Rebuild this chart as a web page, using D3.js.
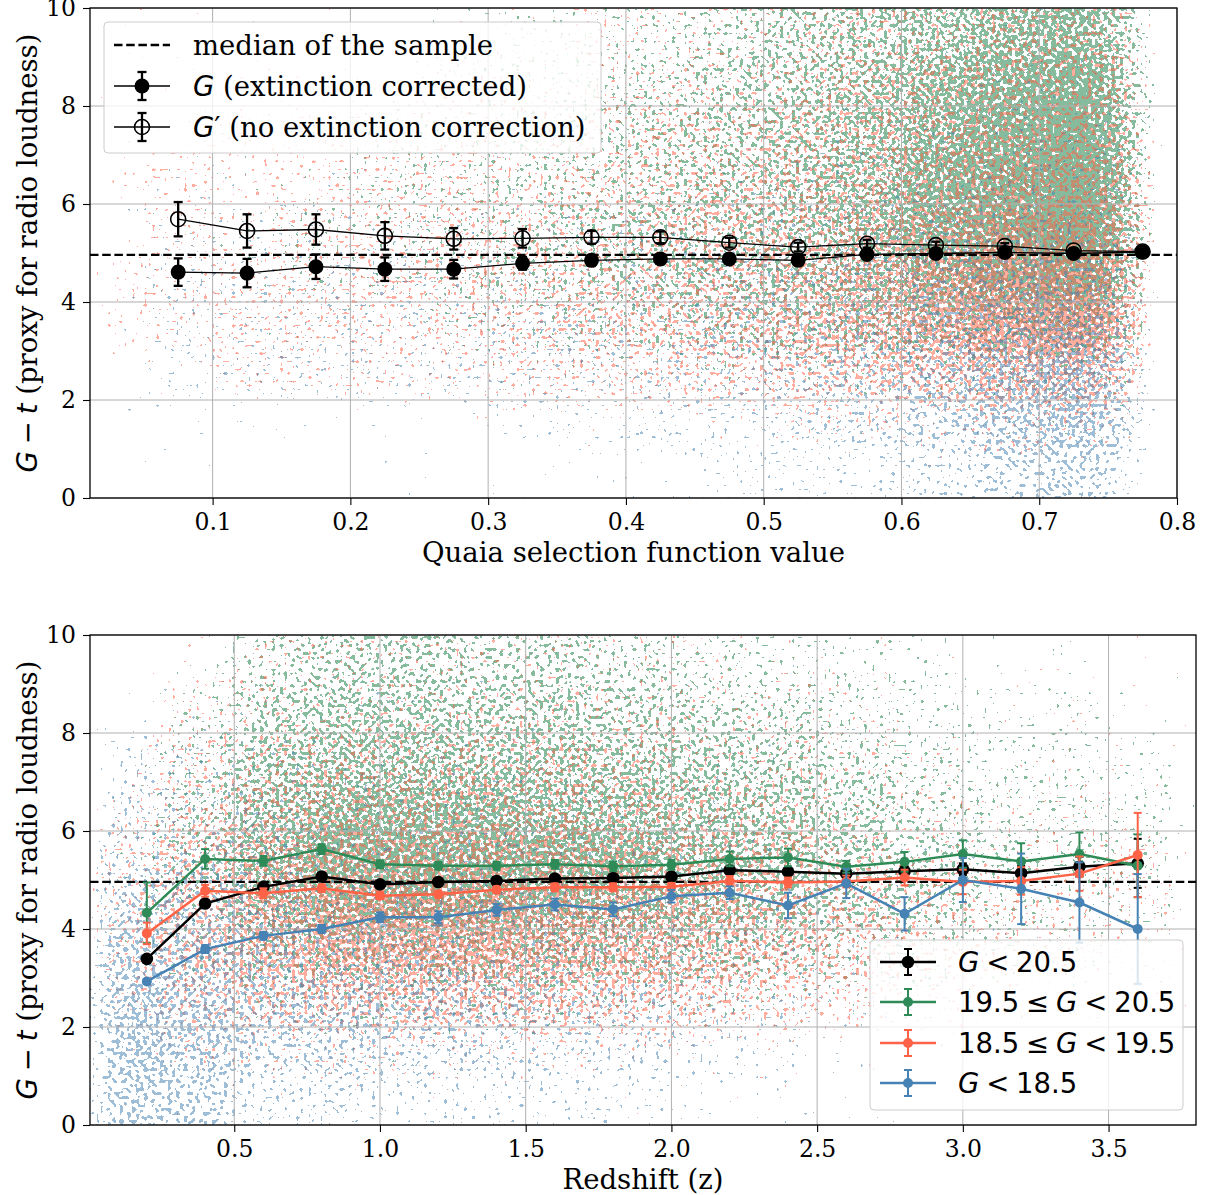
<!DOCTYPE html>
<html>
<head>
<meta charset="utf-8">
<script src="https://cdn.jsdelivr.net/npm/d3@7"></script>
<style>
  body { margin: 0; background: #fff; }
  text { fill: #000; }
</style>
</head>
<body>
<svg id="chart" width="1209" height="1195"></svg>
<script>
// ---- top panel: selection-function bins ----
const selBins = [0.075, 0.125, 0.175, 0.225, 0.275, 0.325, 0.375, 0.425, 0.475, 0.525, 0.575, 0.625, 0.675, 0.725, 0.775];
const selG = [4.61, 4.59, 4.72, 4.67, 4.67, 4.79, 4.85, 4.88, 4.88, 4.85, 4.97, 4.99, 5.01, 4.99, 5.02];
const selGErr = [0.28, 0.29, 0.25, 0.24, 0.19, 0.13, 0.11, 0.09, 0.07, 0.06, 0.05, 0.04, 0.04, 0.03, 0.03];
const selGPrime = [5.69, 5.45, 5.48, 5.35, 5.29, 5.30, 5.32, 5.32, 5.21, 5.12, 5.19, 5.16, 5.14, 5.05, 5.03];
const selGPrimeErr = [0.35, 0.34, 0.31, 0.28, 0.22, 0.19, 0.13, 0.12, 0.10, 0.09, 0.08, 0.07, 0.06, 0.05, 0.04];
const sampleMedian = 4.96;

// ---- bottom panel: redshift bins ----
const zBins = [0.2, 0.4, 0.6, 0.8, 1.0, 1.2, 1.4, 1.6, 1.8, 2.0, 2.2, 2.4, 2.6, 2.8, 3.0, 3.2, 3.4, 3.6];
const zAll = [3.39, 4.52, 4.86, 5.07, 4.91, 4.96, 4.98, 5.03, 5.04, 5.07, 5.20, 5.17, 5.13, 5.18, 5.22, 5.14, 5.27, 5.34];
const zAllErr = [0.06, 0.05, 0.04, 0.04, 0.04, 0.04, 0.04, 0.04, 0.05, 0.05, 0.06, 0.07, 0.08, 0.10, 0.12, 0.15, 0.20, 0.50];
const zFaint = [4.33, 5.43, 5.39, 5.63, 5.32, 5.29, 5.29, 5.32, 5.28, 5.31, 5.43, 5.46, 5.27, 5.37, 5.53, 5.38, 5.53, 5.29];
const zFaintErr = [0.62, 0.20, 0.10, 0.10, 0.08, 0.08, 0.08, 0.09, 0.10, 0.10, 0.15, 0.18, 0.12, 0.20, 0.28, 0.37, 0.44, 0.64];
const zMid = [3.91, 4.78, 4.73, 4.83, 4.68, 4.71, 4.80, 4.85, 4.85, 4.86, 4.98, 4.95, 4.97, 5.05, 4.96, 4.98, 5.13, 5.51];
const zMidErr = [0.22, 0.12, 0.10, 0.08, 0.07, 0.07, 0.07, 0.08, 0.08, 0.08, 0.10, 0.10, 0.12, 0.16, 0.25, 0.28, 0.35, 0.86];
const zBright = [2.93, 3.59, 3.86, 4.00, 4.24, 4.24, 4.39, 4.50, 4.40, 4.67, 4.74, 4.48, 4.93, 4.31, 5.00, 4.82, 4.54, 4.00];
const zBrightErr = [0.05, 0.08, 0.08, 0.08, 0.10, 0.12, 0.12, 0.12, 0.14, 0.13, 0.13, 0.26, 0.30, 0.34, 0.45, 0.72, 0.82, 1.12];

// ---- scatter clouds, read off as relative density (0-10) per cell ----
// rows run from G-t = 9..10 (first) down to 0..1 (last)
const selEdges = [0.02, 0.05, 0.10, 0.15, 0.20, 0.25, 0.30, 0.35, 0.40, 0.45, 0.50, 0.55, 0.60, 0.65, 0.70, 0.75, 0.772];
const selCloudGreen = [
  [0, 0, 0, 0, 0, 0.5, 1, 1, 1.5, 2, 3, 4, 5, 6, 6.5, 4],
  [0, 0, 0, 0.3, 0.5, 1, 1, 1.5, 2, 3, 3.5, 4.5, 6, 7, 8, 5],
  [0, 0, 0.3, 0.5, 1, 1, 1.5, 2, 2.5, 3, 4, 5, 6, 8, 8.5, 6],
  [0, 0, 0.3, 0.5, 1, 1.5, 2, 2, 2.5, 3, 4, 5, 7, 8, 9, 6],
  [0, 0.3, 0.5, 1, 1, 1.5, 2, 2.5, 3, 3.5, 4, 5.5, 7, 8, 9, 6],
  [0, 0.3, 0.5, 1, 1, 1.5, 2, 2.5, 3, 3.5, 4, 5, 6, 7, 8, 5],
  [0, 0, 0.3, 0.5, 0.5, 1, 1, 1.5, 2, 2.5, 3, 3.5, 4, 5, 5, 3],
  [0, 0, 0, 0, 0, 0.3, 0.5, 0.5, 0.5, 1, 1, 1, 1.5, 1.5, 1.5, 1],
  [0, 0, 0, 0, 0, 0, 0, 0, 0, 0, 0.2, 0.3, 0.3, 0.5, 0.5, 0.3],
  [0, 0, 0, 0, 0, 0, 0, 0, 0, 0, 0, 0, 0, 0, 0, 0]
];
const selCloudRed = [
  [0.3, 0.3, 0.3, 0.3, 0.3, 0.5, 0.5, 1, 1, 1, 1.5, 2, 2, 2.5, 2.5, 2],
  [0.3, 0.5, 0.5, 0.5, 0.5, 1, 1, 1, 1.5, 1.5, 2, 2.5, 3, 3, 3, 2.5],
  [0.5, 0.5, 1, 1, 1, 1, 1.5, 1.5, 2, 2, 2.5, 3, 3.5, 4, 4, 3],
  [0.5, 1, 1, 1, 1.5, 1.5, 1.5, 2, 2, 2.5, 3, 3.5, 4, 5, 5, 4],
  [0.5, 1, 1, 1.5, 1.5, 2, 2, 2, 2.5, 3, 3.5, 4, 5, 6, 6, 5],
  [1, 1, 1.5, 1.5, 2, 2, 2, 2.5, 3, 3, 4, 5, 6, 7, 7, 5],
  [1, 1, 1.5, 1.5, 1.5, 2, 2, 2.5, 3, 3, 4, 5, 6, 7, 8, 5],
  [0.5, 0.5, 1, 1, 1, 1, 1.5, 1.5, 2, 2, 2.5, 3, 4, 5, 5, 3],
  [0, 0, 0, 0, 0, 0.3, 0.5, 0.5, 0.5, 0.5, 1, 1, 1, 1.5, 1.5, 1],
  [0, 0, 0, 0, 0, 0, 0, 0, 0, 0, 0, 0.2, 0.2, 0.3, 0.3, 0.2]
];
const selCloudBlue = [
  [0, 0, 0, 0, 0, 0, 0, 0, 0, 0, 0.3, 0.3, 0.5, 0.5, 0.5, 0.3],
  [0, 0, 0, 0, 0, 0, 0, 0, 0.3, 0.3, 0.3, 0.5, 0.5, 0.8, 0.8, 0.5],
  [0, 0.3, 0.3, 0.3, 0.3, 0.3, 0.3, 0.5, 0.5, 0.5, 0.5, 0.8, 1, 1, 1, 0.8],
  [0.3, 0.5, 0.5, 0.5, 0.5, 0.5, 0.5, 0.5, 0.5, 0.8, 1, 1, 1, 1.5, 1.5, 1],
  [0.5, 0.8, 0.8, 0.8, 0.8, 0.8, 0.8, 1, 1, 1, 1.5, 1.5, 2, 2, 2, 1.5],
  [0.5, 1, 1, 1, 1, 1, 1, 1, 1.5, 1.5, 2, 2, 2.5, 3, 3, 2],
  [0.5, 1, 1, 1, 1, 1, 1.5, 1.5, 1.5, 2, 2, 2.5, 3, 4, 4.5, 2.5],
  [0.3, 0.8, 1, 1, 1, 1, 1, 1, 1.5, 1.5, 2, 2.5, 3, 4.5, 5.5, 3],
  [0.3, 0.5, 0.5, 0.5, 0.5, 0.5, 0.8, 0.8, 1, 1, 1.5, 2, 2.5, 4, 5, 2.5],
  [0.2, 0.3, 0.3, 0.3, 0.3, 0.3, 0.5, 0.5, 0.5, 0.8, 1, 1, 1.5, 2.5, 3, 1.5]
];

const zEdges = [0.05, 0.25, 0.5, 0.75, 1.0, 1.25, 1.5, 1.75, 2.0, 2.25, 2.5, 2.75, 3.0, 3.25, 3.5, 3.75];
const zCloudGreen = [
  [0, 0.5, 2, 3, 3, 2.5, 2.5, 2, 1.5, 1, 1, 0.8, 0.5, 0.5, 0.3],
  [0, 1, 3, 4, 4, 3.5, 3.5, 3, 2.5, 2, 1.5, 1, 0.8, 0.8, 0.5],
  [0.2, 1.5, 4, 5, 5, 4.5, 4.5, 4, 3.5, 3, 2, 1.5, 1, 1, 0.8],
  [0.3, 2, 5, 6, 6, 6, 5.5, 5, 4.5, 4, 3, 2, 1.5, 1.2, 1],
  [0.5, 2.5, 5.5, 7, 7, 6.5, 6.5, 6, 5, 4.5, 3.5, 2.5, 2, 1.5, 1],
  [0.5, 2, 5, 6, 6.5, 6, 6, 5.5, 5, 4, 3, 2.5, 1.5, 1.2, 1],
  [0.3, 1.5, 3, 4, 4, 4, 4, 3.5, 3, 2.5, 2, 1.5, 1, 0.8, 0.5],
  [0, 0.5, 1, 1.5, 1.5, 1.5, 1.5, 1, 1, 0.8, 0.5, 0.5, 0.3, 0.3, 0.2],
  [0, 0.2, 0.3, 0.3, 0.3, 0.3, 0.3, 0.3, 0.2, 0.2, 0.2, 0, 0, 0, 0],
  [0, 0, 0, 0, 0, 0, 0, 0, 0, 0, 0, 0, 0, 0, 0]
];
const zCloudRed = [
  [0, 0.5, 1, 1, 1, 1, 1, 1, 0.8, 0.5, 0.5, 0.5, 0.3, 0.3, 0.3],
  [0.2, 1, 1.5, 1.5, 1.5, 1.5, 1.5, 1.5, 1, 1, 0.8, 0.5, 0.5, 0.5, 0.5],
  [0.5, 1.5, 2, 2.5, 2.5, 2.5, 2.5, 2, 1.5, 1.5, 1, 0.8, 0.5, 0.5, 0.5],
  [1, 2, 3, 3.5, 3.5, 3.5, 3, 3, 2.5, 2, 1.5, 1, 0.8, 0.8, 0.5],
  [1.5, 3, 4.5, 5, 5, 5, 4.5, 4, 3.5, 3, 2, 1.5, 1, 1, 0.8],
  [2, 3.5, 5.5, 6, 6, 6, 5.5, 5, 4.5, 3.5, 2.5, 2, 1.5, 1, 1],
  [2, 3.5, 5, 6, 6, 6, 5.5, 5, 4, 3.5, 2.5, 2, 1.5, 1, 0.8],
  [1.5, 2.5, 3, 3.5, 4, 4, 3.5, 3, 2.5, 2, 1.5, 1, 0.8, 0.5, 0.5],
  [0.5, 1, 1, 1, 1, 1, 1, 0.8, 0.5, 0.5, 0.3, 0.3, 0.2, 0.2, 0.2],
  [0.2, 0.3, 0.3, 0.3, 0.3, 0.3, 0.2, 0.2, 0.2, 0.2, 0, 0, 0, 0, 0]
];
const zCloudBlue = [
  [0, 0.3, 0.3, 0.3, 0.3, 0.3, 0.2, 0.2, 0.2, 0.2, 0, 0, 0, 0, 0],
  [0.3, 0.5, 0.5, 0.5, 0.5, 0.5, 0.3, 0.3, 0.3, 0.3, 0.2, 0.2, 0, 0, 0],
  [1, 1, 1, 0.8, 0.8, 0.8, 0.5, 0.5, 0.5, 0.5, 0.3, 0.3, 0.2, 0.2, 0.2],
  [1.5, 1.5, 1.5, 1, 1, 1, 1, 0.8, 0.8, 0.5, 0.5, 0.3, 0.3, 0.2, 0.2],
  [2, 2, 2, 1.5, 1.5, 1.5, 1, 1, 1, 0.8, 0.5, 0.5, 0.3, 0.3, 0.2],
  [3, 3, 2.5, 2, 2, 2, 1.5, 1.5, 1, 1, 0.8, 0.5, 0.3, 0.3, 0.2],
  [4, 3.5, 3, 2.5, 2.5, 2, 2, 1.5, 1.5, 1, 0.8, 0.5, 0.3, 0.3, 0.2],
  [5, 4, 3, 3, 3, 2.5, 2, 2, 1.5, 1, 0.8, 0.5, 0.3, 0.2, 0.2],
  [5, 4, 2.5, 2.5, 2, 2, 1.5, 1.5, 1, 0.8, 0.5, 0.3, 0.2, 0.2, 0],
  [4, 3, 1.5, 1.5, 1, 1, 1, 0.8, 0.5, 0.5, 0.3, 0.2, 0, 0, 0]
];

const BLUE = "#4682b4", GREEN = "#2e8b57", RED = "#ff6347";
const SERIF = "DejaVu Serif", SANS = "DejaVu Sans";

const svg = d3.select("#chart");
const defs = svg.append("defs");

const xTop = d3.scaleLinear().domain([0.011, 0.8]).range([90, 1177]);
const yTop = d3.scaleLinear().domain([0, 10]).range([498, 8]);
const xBot = d3.scaleLinear().domain([0.005, 3.8]).range([90, 1196]);
const yBot = d3.scaleLinear().domain([0, 10]).range([1125, 635]);

function clipFor(id, x, y) {
  defs.append("clipPath").attr("id", id).append("rect")
    .attr("x", x.range()[0]).attr("y", y.range()[1])
    .attr("width", x.range()[1] - x.range()[0])
    .attr("height", y.range()[0] - y.range()[1]);
}
clipFor("clipTop", xTop, yTop);
clipFor("clipBot", xBot, yBot);

// density cells -> blurred, then thresholded against a fine texture so they read as scattered dots
function drawCloud(g, name, rows, edges, x, y, color, alpha, seed) {
  const pad = 60;
  const [x0, x1] = x.range(), [yb, yt] = y.range();
  const f = defs.append("filter").attr("id", name)
    .attr("filterUnits", "userSpaceOnUse")
    .attr("x", x0 - pad).attr("y", yt - pad)
    .attr("width", x1 - x0 + 2 * pad).attr("height", yb - yt + 2 * pad)
    .attr("color-interpolation-filters", "sRGB");
  f.append("feGaussianBlur").attr("in", "SourceAlpha").attr("stdDeviation", "15 12").attr("result", "dens");
  f.append("feTurbulence").attr("type", "fractalNoise").attr("baseFrequency", 0.25)
    .attr("numOctaves", 1).attr("seed", seed).attr("result", "turb");
  // flatten the texture so the share of painted pixels follows the density
  f.append("feComponentTransfer").attr("in", "turb").attr("result", "flat")
    .append("feFuncR").attr("type", "table")
    .attr("tableValues", "0 0 0.016 0.094 0.306 0.63 0.883 0.98 1 1 1");
  f.append("feColorMatrix").attr("in", "flat").attr("type", "matrix")
    .attr("values", "0 0 0 0 0  0 0 0 0 0  0 0 0 0 0  1 0 0 0 0").attr("result", "noise");
  f.append("feComposite").attr("in", "dens").attr("in2", "noise").attr("operator", "arithmetic")
    .attr("k1", 0).attr("k2", 1).attr("k3", -1).attr("k4", 0.49).attr("result", "diff");
  f.append("feComponentTransfer").attr("in", "diff").attr("result", "dots")
    .append("feFuncA").attr("type", "discrete").attr("tableValues", "0 1");
  f.append("feFlood").attr("flood-color", color).attr("flood-opacity", alpha).attr("result", "paint");
  f.append("feComposite").attr("in", "paint").attr("in2", "dots").attr("operator", "in");

  const cells = [];
  rows.forEach((row, ri) => row.forEach((v, ci) => {
    cells.push({ a: edges[ci], b: edges[ci + 1], top: 10 - ri, bot: 9 - ri, v: v });
  }));
  g.append("g").attr("filter", `url(#${name})`)
    .selectAll("rect").data(cells).join("rect")
      .attr("x", d => x(d.a))
      .attr("width", d => x(d.b) - x(d.a))
      .attr("y", d => y(d.top) - (d.top === 10 ? pad : 0))
      .attr("height", d => y(d.bot) - y(d.top) + (d.top === 10 ? pad : 0) + (d.bot === 0 ? pad : 0))
      .attr("fill", "#000")
      .attr("fill-opacity", d => Math.min(1, d.v / 9));
}

function drawAxes(g, x, y, xTicks, xFmt, xLabel, yMid) {
  const [x0, x1] = x.range(), [yb, yt] = y.range();
  // grid (drawn above the clouds, as matplotlib does)
  g.append("g").selectAll("line").data(xTicks).join("line")
    .attr("x1", d => x(d)).attr("x2", d => x(d)).attr("y1", yt).attr("y2", yb)
    .attr("stroke", "#b0b0b0").attr("stroke-width", 1);
  g.append("g").selectAll("line").data(d3.range(0, 11, 2)).join("line")
    .attr("x1", x0).attr("x2", x1).attr("y1", d => y(d)).attr("y2", d => y(d))
    .attr("stroke", "#b0b0b0").attr("stroke-width", 1);

  const xa = g.append("g").attr("transform", `translate(0,${yb})`)
    .call(d3.axisBottom(x).tickValues(xTicks).tickFormat(d3.format(xFmt)).tickSize(7).tickPadding(8));
  const ya = g.append("g").attr("transform", `translate(${x0},0)`)
    .call(d3.axisLeft(y).tickValues(d3.range(0, 11, 2)).tickFormat(d3.format("d")).tickSize(7).tickPadding(7));
  [xa, ya].forEach(a => {
    a.select(".domain").remove();
    a.selectAll(".tick line").attr("stroke", "#000").attr("stroke-width", 1.1);
    a.selectAll(".tick text").attr("font-family", SERIF).attr("font-size", 23.5).attr("fill", "#000");
  });

  g.append("text").attr("x", (x0 + x1) / 2).attr("y", yb + 64)
    .attr("text-anchor", "middle").attr("font-family", SERIF).attr("font-size", 27.5)
    .text(xLabel);

  const yl = g.append("text").attr("transform", `translate(37,${yMid}) rotate(-90)`)
    .attr("text-anchor", "middle").attr("font-family", SERIF).attr("font-size", 27.5);
  yl.append("tspan").attr("font-family", SANS).attr("font-style", "italic").text("G");
  yl.append("tspan").attr("font-family", SANS).text("\u2005\u2212\u2005");
  yl.append("tspan").attr("font-family", SANS).attr("font-style", "italic").text("t");
  yl.append("tspan").text(" (proxy for radio loudness)");
}

function drawFrame(g, x, y) {
  g.append("rect").attr("x", x.range()[0]).attr("y", y.range()[1])
    .attr("width", x.range()[1] - x.range()[0]).attr("height", y.range()[0] - y.range()[1])
    .attr("fill", "none").attr("stroke", "#000").attr("stroke-width", 1.3);
}

function drawMedian(g, x, y) {
  g.append("line").attr("x1", x.range()[0]).attr("x2", x.range()[1])
    .attr("y1", y(sampleMedian)).attr("y2", y(sampleMedian))
    .attr("stroke", "#000").attr("stroke-width", 2.3).attr("stroke-dasharray", "8.5 3.7");
}

function drawErrSeries(g, xs, ys, es, x, y, s) {
  const pts = xs.map((v, i) => ({ x: v, y: ys[i], e: es[i] }));
  g.append("path").datum(pts)
    .attr("d", d3.line().x(d => x(d.x)).y(d => y(d.y)))
    .attr("fill", "none").attr("stroke", s.color).attr("stroke-width", s.lw);
  const bars = g.append("g").attr("stroke", s.color).attr("stroke-width", s.elw);
  bars.append("g").selectAll("line").data(pts).join("line")
    .attr("x1", d => x(d.x)).attr("x2", d => x(d.x))
    .attr("y1", d => y(d.y - d.e)).attr("y2", d => y(d.y + d.e));
  bars.append("g").selectAll("line").data(pts).join("line")
    .attr("x1", d => x(d.x) - s.cap).attr("x2", d => x(d.x) + s.cap)
    .attr("y1", d => y(d.y + d.e)).attr("y2", d => y(d.y + d.e));
  bars.append("g").selectAll("line").data(pts).join("line")
    .attr("x1", d => x(d.x) - s.cap).attr("x2", d => x(d.x) + s.cap)
    .attr("y1", d => y(d.y - d.e)).attr("y2", d => y(d.y - d.e));
  g.append("g").selectAll("circle").data(pts).join("circle")
    .attr("cx", d => x(d.x)).attr("cy", d => y(d.y)).attr("r", s.r)
    .attr("fill", s.open ? "none" : s.color)
    .attr("stroke", s.color).attr("stroke-width", s.open ? 1.6 : 0);
}

function legendHandle(g, x0, x1, cy, s) {
  const cx = (x0 + x1) / 2;
  g.append("line").attr("x1", x0).attr("x2", x1).attr("y1", cy).attr("y2", cy)
    .attr("stroke", s.color).attr("stroke-width", s.lw);
  if (s.eh) {
    g.append("line").attr("x1", cx).attr("x2", cx).attr("y1", cy - s.eh).attr("y2", cy + s.eh)
      .attr("stroke", s.color).attr("stroke-width", s.elw);
    [cy - s.eh, cy + s.eh].forEach(v => g.append("line")
      .attr("x1", cx - s.cap).attr("x2", cx + s.cap).attr("y1", v).attr("y2", v)
      .attr("stroke", s.color).attr("stroke-width", s.elw));
  }
  if (s.r) {
    g.append("circle").attr("cx", cx).attr("cy", cy).attr("r", s.r)
      .attr("fill", s.open ? "none" : s.color).attr("stroke", s.color)
      .attr("stroke-width", s.open ? 1.6 : 0);
  }
}

// ================= top panel =================
const topPanel = svg.append("g");
const topClouds = topPanel.append("g").attr("clip-path", "url(#clipTop)");
drawCloud(topClouds, "cTopGreen", selCloudGreen, selEdges, xTop, yTop, GREEN, 0.58, 3);
drawCloud(topClouds, "cTopRed", selCloudRed, selEdges, xTop, yTop, RED, 0.52, 11);
drawCloud(topClouds, "cTopBlue", selCloudBlue, selEdges, xTop, yTop, BLUE, 0.52, 27);
drawAxes(topPanel, xTop, yTop, d3.range(1, 9).map(d => d / 10), ".1f", "Quaia selection function value", 253);
drawMedian(topPanel, xTop, yTop);

const topFilled = { color: "#000", lw: 1.3, elw: 2.3, cap: 4.5, r: 7.5 };
const topOpen = { color: "#000", lw: 1.3, elw: 2.3, cap: 4.5, r: 7.5, open: true };
drawErrSeries(topPanel, selBins, selGPrime, selGPrimeErr, xTop, yTop, topOpen);
drawErrSeries(topPanel, selBins, selG, selGErr, xTop, yTop, topFilled);
drawFrame(topPanel, xTop, yTop);

const topLeg = topPanel.append("g");
topLeg.append("rect").attr("x", 104).attr("y", 22).attr("width", 497).attr("height", 131).attr("rx", 4)
  .attr("fill", "#fff").attr("fill-opacity", 0.8).attr("stroke", "#cccccc").attr("stroke-width", 1);
topLeg.append("line").attr("x1", 114).attr("x2", 170).attr("y1", 45).attr("y2", 45)
  .attr("stroke", "#000").attr("stroke-width", 2.3).attr("stroke-dasharray", "8.5 3.7");
legendHandle(topLeg, 114, 170, 86, Object.assign({ eh: 14 }, topFilled));
legendHandle(topLeg, 114, 170, 127, Object.assign({ eh: 14 }, topOpen));
topLeg.append("text").attr("x", 193).attr("y", 55).attr("font-family", SERIF).attr("font-size", 27.5)
  .text("median of the sample");
const tl2 = topLeg.append("text").attr("x", 193).attr("y", 96).attr("font-family", SERIF).attr("font-size", 27.5);
tl2.append("tspan").attr("font-family", SANS).attr("font-style", "italic").text("G");
tl2.append("tspan").text(" (extinction corrected)");
const tl3 = topLeg.append("text").attr("x", 193).attr("y", 137).attr("font-family", SERIF).attr("font-size", 27.5);
tl3.append("tspan").attr("font-family", SANS).attr("font-style", "italic").text("G");
tl3.append("tspan").attr("font-family", SANS).attr("font-size", 27.5).text("\u2032");
tl3.append("tspan").text(" (no extinction correction)");

// ================= bottom panel =================
const botPanel = svg.append("g");
const botClouds = botPanel.append("g").attr("clip-path", "url(#clipBot)");
drawCloud(botClouds, "cBotGreen", zCloudGreen, zEdges, xBot, yBot, GREEN, 0.58, 5);
drawCloud(botClouds, "cBotRed", zCloudRed, zEdges, xBot, yBot, RED, 0.52, 17);
drawCloud(botClouds, "cBotBlue", zCloudBlue, zEdges, xBot, yBot, BLUE, 0.52, 41);
drawAxes(botPanel, xBot, yBot, d3.range(1, 8).map(d => d / 2), ".1f", "Redshift (z)", 880);
drawMedian(botPanel, xBot, yBot);

const botSeries = [
  { ys: zAll, es: zAllErr, color: "#000", r: 6.3, label: [["i", "G"], ["", "\u2005<\u200520.5"]] },
  { ys: zFaint, es: zFaintErr, color: GREEN, r: 5, label: [["", "19.5\u2005\u2264\u2005"], ["i", "G"], ["", "\u2005<\u200520.5"]] },
  { ys: zMid, es: zMidErr, color: RED, r: 5, label: [["", "18.5\u2005\u2264\u2005"], ["i", "G"], ["", "\u2005<\u200519.5"]] },
  { ys: zBright, es: zBrightErr, color: BLUE, r: 5, label: [["i", "G"], ["", "\u2005<\u200518.5"]] }
];
botSeries.forEach(s => drawErrSeries(botPanel, zBins, s.ys, s.es, xBot, yBot,
  { color: s.color, lw: 2.5, elw: 2, cap: 4, r: s.r }));
drawFrame(botPanel, xBot, yBot);

const botLeg = botPanel.append("g");
botLeg.append("rect").attr("x", 870).attr("y", 940).attr("width", 313).attr("height", 170).attr("rx", 4)
  .attr("fill", "#fff").attr("fill-opacity", 0.8).attr("stroke", "#cccccc").attr("stroke-width", 1);
const rowY = [962, 1002, 1043, 1083];
botSeries.forEach((s, i) => {
  legendHandle(botLeg, 880, 936, rowY[i], { color: s.color, lw: 2.5, elw: 2, cap: 4, r: s.r, eh: 13 });
  const t = botLeg.append("text").attr("x", 958).attr("y", rowY[i] + 10)
    .attr("font-family", SANS).attr("font-size", 27.5);
  s.label.forEach(([st, txt]) => {
    const sp = t.append("tspan").text(txt);
    if (st === "i") sp.attr("font-style", "italic");
  });
});
</script>
</body>
</html>
